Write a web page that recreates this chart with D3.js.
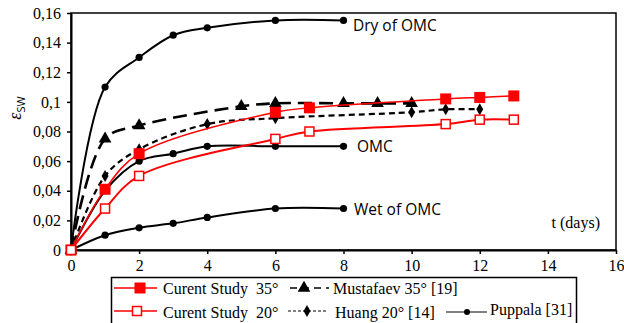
<!DOCTYPE html>
<html><head><meta charset="utf-8">
<script src="https://cdn.jsdelivr.net/npm/d3@7"></script>
<style>body{margin:0;background:#fff}svg{display:block}.serif{font-family:"Liberation Serif","DejaVu Serif",serif}.sans{font-family:"Open Sans","Liberation Sans",sans-serif}</style>
</head><body>
<svg id="c" width="624" height="323"></svg>
<script>
const xTicks = [0,2,4,6,8,10,12,14,16];
const yTicks = [0,0.02,0.04,0.06,0.08,0.1,0.12,0.14,0.16];
const yTickLabels = ["0","0,02","0,04","0,06","0,08","0,1","0,12","0,14","0,16"];

const dryT = [0,1,2,3,4,6,8];
const dryV = [0,0.110,0.130,0.145,0.150,0.155,0.155];
const omcT = [0,1,2,3,4,6,8];
const omcV = [0,0.040,0.060,0.065,0.070,0.070,0.070];
const wetT = [0,1,2,3,4,6,8];
const wetV = [0,0.010,0.015,0.018,0.022,0.028,0.028];
const mustT = [0,1,2,5,6,8,9,10];
const mustV = [0,0.075,0.084,0.097,0.099,0.099,0.099,0.099];
const huangT = [0,1,2,4,6,10,11,12];
const huangV = [0,0.050,0.068,0.085,0.089,0.093,0.095,0.095];
const cur35T = [0,1,2,6,7,11,12,13];
const cur35V = [0,0.041,0.065,0.093,0.096,0.102,0.103,0.104];
const cur20T = [0,1,2,6,7,11,12,13];
const cur20V = [0,0.028,0.050,0.075,0.080,0.085,0.088,0.088];

const curveLabels = ["Dry of OMC","OMC","Wet of OMC"];
const legendLabels = ["Curent Study  35°","Mustafaev 35° [19]","Curent Study  20°","Huang 20° [14]","Puppala [31]"];

const svg = d3.select("#c");
const x = d3.scaleLinear().domain([0,16]).range([71,616]);
const y = d3.scaleLinear().domain([0,0.16]).range([250,13]);
const SERIF = '"Liberation Serif","DejaVu Serif",serif';

// frame
svg.append("rect").attr("x",x(0)).attr("y",y(0.16)).attr("width",x(16)-x(0)).attr("height",y(0)-y(0.16))
  .attr("fill","none").attr("stroke","#000").attr("stroke-width",1.5);

// axes
const xa = svg.append("g").attr("transform",`translate(0,${y(0)})`)
  .call(d3.axisBottom(x).tickValues(xTicks).tickSizeInner(4).tickSizeOuter(0).tickPadding(6).tickFormat(d3.format("d")));
xa.select(".domain").attr("stroke-width",2);
xa.selectAll(".tick line").attr("stroke-width",1.5);
xa.attr("font-family",null).attr("font-size",null);
xa.selectAll("text").style("font-family",SERIF).style("font-size","16px").attr("fill","#000");
const ya = svg.append("g").attr("transform",`translate(${x(0)},0)`)
  .call(d3.axisLeft(y).tickValues(yTicks).tickSizeInner(4).tickSizeOuter(0).tickPadding(6).tickFormat((d,i)=>yTickLabels[i]));
ya.select(".domain").attr("stroke-width",2);
ya.selectAll(".tick line").attr("stroke-width",1.5);
ya.attr("font-family",null).attr("font-size",null);
ya.selectAll("text").style("font-family",SERIF).style("font-size","16px").attr("fill","#000");

// y label
const yl = svg.append("text").attr("transform","translate(21,108) rotate(-90)").attr("text-anchor","middle").attr("class","serif")
  .style("font-size","18px");
yl.append("tspan").text("ε").attr("font-style","italic");
yl.append("tspan").text("SW").attr("class","sans").style("font-size","11px").attr("dy",4);

svg.append("text").attr("x",x(16)-16).attr("y",y(0.015)).attr("text-anchor","end").attr("class","serif")
  .style("font-size","16px").text("t (days)");

const curve = d3.curveCatmullRom.alpha(0.5);
function draw(T,V,opt){
  const pts = T.map((t,i)=>[x(t),y(V[i])]);
  svg.append("path").attr("d",d3.line().curve(curve)(pts)).attr("fill","none")
    .attr("stroke",opt.color).attr("stroke-width",opt.w).attr("stroke-dasharray",opt.dash||null);
  const g = svg.append("g");
  pts.forEach(p=>marker(g,p[0],p[1],opt.m,opt.color));
}
function marker(g,px,py,m,color){
  if(m==="circle") g.append("circle").attr("cx",px).attr("cy",py).attr("r",3.6).attr("fill","#000");
  else if(m==="tri") g.append("path").attr("d",d3.symbol(d3.symbolTriangle,70)()).attr("transform",`translate(${px},${py})`).attr("fill","#000");
  else if(m==="diamond") g.append("path").attr("d",d3.symbol(d3.symbolDiamond,42)()).attr("transform",`translate(${px},${py})`).attr("fill","#000");
  else if(m==="sqf") g.append("rect").attr("x",px-5.5).attr("y",py-5.5).attr("width",11).attr("height",11).attr("fill","#f00");
  else if(m==="sqo") g.append("rect").attr("x",px-4.5).attr("y",py-4.5).attr("width",9).attr("height",9).attr("fill","#fff").attr("stroke","#f00").attr("stroke-width",1.5);
}

draw(wetT,wetV,{color:"#000",w:2,m:"circle"});
draw(omcT,omcV,{color:"#000",w:2,m:"circle"});
draw(dryT,dryV,{color:"#000",w:2,m:"circle"});
draw(mustT,mustV,{color:"#000",w:2.6,m:"tri",dash:"14,7"});
draw(huangT,huangV,{color:"#000",w:2.2,m:"diamond",dash:"6,4"});
draw(cur35T,cur35V,{color:"#f00",w:1.5,m:"sqf"});
draw(cur20T,cur20V,{color:"#f00",w:2,m:"sqo"});

// curve labels
svg.append("text").attr("x",353).attr("y",31).attr("class","sans").style("font-size","15.5px").text(curveLabels[0]);
svg.append("text").attr("x",357).attr("y",152).attr("class","sans").style("font-size","15.5px").text(curveLabels[1]);
svg.append("text").attr("x",354).attr("y",215).attr("class","sans").style("font-size","15.5px").text(curveLabels[2]);

// legend
const lg = svg.append("g");
lg.append("rect").attr("x",111.5).attr("y",277.5).attr("width",465).attr("height",50).attr("fill","#fff").attr("stroke","#000").attr("stroke-width",1.5);
function legLine(x1,x2,yy,color,w,dash){
  lg.append("line").attr("x1",x1).attr("x2",x2).attr("y1",yy).attr("y2",yy).attr("stroke",color).attr("stroke-width",w).attr("stroke-dasharray",dash||null);
}
const r1=288, r2=311;
legLine(114,157,r1,"#f00",1.5); marker(lg,140,r1,"sqf");
legLine(114,157,r2,"#f00",1.5); marker(lg,137,r2,"sqo");
legLine(290,329,r1,"#000",1.5,"7,5"); marker(lg,304,r1,"tri");
legLine(288,326,r2,"#000",1,"3,2"); marker(lg,307,r2,"diamond");
legLine(446,487,r2+1,"#000",1); lg.append("circle").attr("cx",467).attr("cy",r2+1).attr("r",3).attr("fill","#000");
const lt = [[163,r1+6,0],[333,r1+6,1],[163,r2+7,2],[335,r2+7,3],[490,r2+4,4]];
lt.forEach(d=>lg.append("text").attr("x",d[0]).attr("y",d[1]).attr("class","serif").style("font-size","16px").style("white-space","pre").text(legendLabels[d[2]]));
</script>
</body></html>
